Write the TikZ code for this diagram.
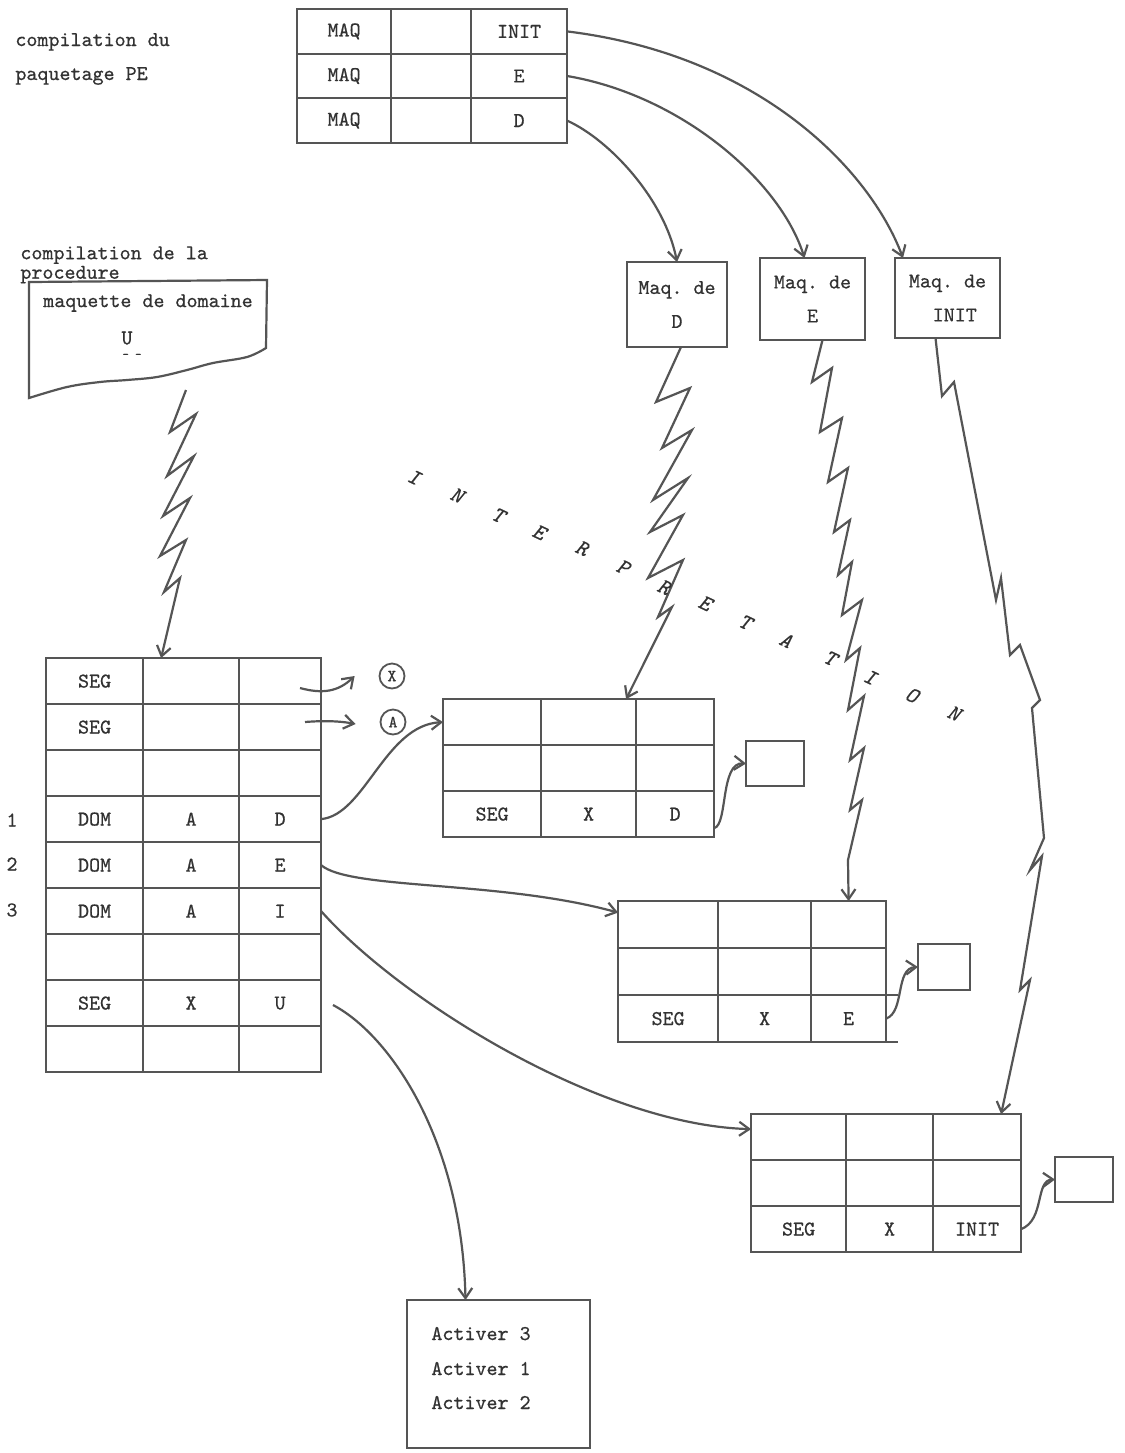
\documentclass[tikz,border=0pt]{standalone}
\usepackage{fontspec}
\usetikzlibrary{matrix,arrows.meta}
\newfontfamily\twf[FakeBold=0.6]{lmmono10-regular.otf}
\newfontfamily\twi[FakeBold=0.5]{lmmono10-italic.otf}
\definecolor{lc}{RGB}{85,85,85}
\definecolor{tc}{RGB}{50,50,50}
\newcommand{\ttsz}{\fontsize{10.5}{12}\selectfont\twf\frenchspacing}
\begin{document}
\begin{tikzpicture}[x=0.5pt,y=-0.5pt,
  every node/.style={text=tc, font=\ttsz, inner sep=0pt},
  tbl/.style={matrix of nodes, nodes in empty cells, column sep=-1.1pt, row sep=-1.1pt,
    anchor=north west, inner sep=0pt, outer sep=0pt,
    nodes={draw=lc, line width=1.1pt, inner sep=0pt, outer sep=0pt, anchor=center}},
  box/.style={draw=lc, line width=1.1pt, inner sep=0pt, outer sep=0pt},
  arr/.style={draw=lc, line width=1.1pt, -{Straight Barb[length=5pt,width=7pt]}},
  bolt/.style={arr, line join=miter},
  ilet/.style={font=\fontsize{11}{12}\selectfont\twi, rotate=-25}
]
\fill[white] (0,0) rectangle (1125,1453);
\useasboundingbox (0,0) rectangle (1125,1453);

% ---------- texts top left
\node[anchor=base west] (t1) at (15,46) {compilation du};
\node[anchor=base west] (t2) at (15,80) {paquetage PE};
\node[anchor=north west, align=left, font={\fontsize{10.5}{7.2}\selectfont\twf}] (t3) at (20,246) {compilation de la\\procedure};

% ---------- top table
\matrix (TP) [tbl,
  column 1/.style={nodes={minimum width=47pt}},
  column 2/.style={nodes={minimum width=40pt}},
  column 3/.style={nodes={minimum width=48pt}},
  nodes={minimum height=22.3pt}] at (296,8) {
MAQ & & INIT \\
MAQ & & E \\
MAQ & & D \\
};

% ---------- Maq boxes
\node[box, minimum width=50pt, minimum height=42.5pt, align=center,
  font={\fontsize{10.5}{17}\selectfont\twf\frenchspacing}] (maqD) at (677,304.5) {Maq. de\\D};
\node[box, minimum width=52.5pt, minimum height=41pt, align=center,
  font={\fontsize{10.5}{17}\selectfont\twf\frenchspacing}] (maqE) at (812.5,299) {Maq. de\\E};
\node[box, minimum width=52.5pt, minimum height=40pt, align=center,
  font={\fontsize{10.5}{17}\selectfont\twf\frenchspacing}] (maqI) at (947.5,298) {Maq. de\\\ \,INIT};

\draw[arr] (TP-1-3.east) .. controls (760,55) and (870,170) .. ([xshift=4pt]maqI.north west);
\draw[arr] (TP-2-3.east) .. controls (680,95) and (780,180) .. ([xshift=-4pt]maqE.north);
\draw[arr] (TP-3-3.east) .. controls (610,140) and (665,200) .. (maqD.north);

% ---------- wavy domain box
\draw[lc, line width=1.1pt] (29,282) -- (267,280) -- (266,348)
  -- plot[smooth, tension=0.6] coordinates {(266,348) (247,357) (213,363) (187,370) (157,377) (127,380) (100,382) (67,387) (29,398)}
  -- cycle;
\node (maqU) at (148,303) {maquette de domaine};
\node (uU) at (127,338) {U};
\node[font=\fontsize{6}{7}\selectfont\twf] (uDots) at (132,356) {- -};
\coordinate (uB) at (186,390);

% ---------- big table
\matrix (BG) [tbl,
  column 1/.style={nodes={minimum width=48.5pt}},
  column 2/.style={nodes={minimum width=48pt}},
  column 3/.style={nodes={minimum width=41pt}},
  nodes={minimum height=23pt}] at (45,657) {
SEG & & \\
SEG & & \\
 & & \\
DOM & A & D \\
DOM & A & E \\
DOM & A & I \\
 & & \\
SEG & X & U \\
 & & \\
};
\node (n1) at (12,820) {1};
\node (n2) at (12,864) {2};
\node (n3) at (12,910) {3};

% circles X, A
\node[circle, draw=lc, line width=0.9pt, minimum size=12.5pt, inner sep=0pt,
  font=\fontsize{8.5}{10}\selectfont\twf] (cX) at (392,676) {X};
\node[circle, draw=lc, line width=0.9pt, minimum size=12.5pt, inner sep=0pt,
  font=\fontsize{8.5}{10}\selectfont\twf] (cA) at (393,722) {A};
\coordinate (s1) at (300,688);
\coordinate (s2) at (305,722);
\draw[arr] (s1) .. controls (322,694) and (338,692) .. ([xshift=-12pt]cX.west);
\draw[arr] (s2) .. controls (330,720) and (345,722) .. ([xshift=-12pt,yshift=-1pt]cA.west);

% ---------- table D
\matrix (TD) [tbl,
  column 1/.style={nodes={minimum width=49pt}},
  column 2/.style={nodes={minimum width=47.5pt}},
  column 3/.style={nodes={minimum width=39pt}},
  nodes={minimum height=23pt}] at (442,698) {
 & & \\
 & & \\
SEG & X & D \\
};
\node[box, minimum width=29pt, minimum height=22.5pt] (sD) at (775,763.5) {};

% ---------- table E
\matrix (TE) [tbl,
  column 1/.style={nodes={minimum width=50pt}},
  column 2/.style={nodes={minimum width=46.5pt}},
  column 3/.style={nodes={minimum width=37.5pt}},
  nodes={minimum height=23.5pt}] at (617,900) {
 & & \\
 & & \\
SEG & X & E \\
};
\draw[lc, line width=1.1pt] (TE-3-3.north east) -- ++(12,0);
\draw[lc, line width=1.1pt] (TE-3-3.south east) -- ++(12,0);
\node[box, minimum width=26pt, minimum height=23pt] (sE) at (944,967) {};

% ---------- table INIT
\matrix (TI) [tbl,
  column 1/.style={nodes={minimum width=47.5pt}},
  column 2/.style={nodes={minimum width=43.5pt}},
  column 3/.style={nodes={minimum width=44pt}},
  nodes={minimum height=23pt}] at (750,1113) {
 & & \\
 & & \\
SEG & X & INIT \\
};
\node[box, minimum width=29pt, minimum height=22.5pt] (sI) at (1084,1179.5) {};

% ---------- Activer box
\node[box, minimum width=91.5pt, minimum height=74pt] (act) at (498.5,1374) {};
\node[anchor=base west] (a3) at (431,1340) {Activer 3};
\node[anchor=base west] (a1) at (431,1375) {Activer 1};
\node[anchor=base west] (a2) at (431,1409) {Activer 2};

% ---------- connectors from big table
\draw[arr] (BG-4-3.east) .. controls (365,815) and (385,725) .. (TD-1-1.west);
\draw[arr] (BG-5-3.east) .. controls (350,890) and (500,880) .. ([yshift=6pt]TE-1-1.west);
\draw[arr] (BG-6-3.east) .. controls (400,1000) and (600,1125) .. ([yshift=4pt]TI-1-1.west);
\coordinate (uS) at (333,1005);
\draw[arr] (uS) .. controls (390,1035) and (462,1140) .. ([xshift=-16.5pt]act.north);

% ---------- connectors to small boxes
\draw[arr] ([yshift=-7pt]TD-3-3.east) .. controls (728,825) and (720,762) .. (sD.west);
\draw[arr] (TE-3-3.east) .. controls (905,1012) and (895,968) .. (sE.west);
\draw[arr] (TI-3-3.east) .. controls (1045,1220) and (1035,1180) .. (sI.west);

% ---------- lightning connectors
\draw[bolt] (uB) -- (170,432) -- (196,414) -- (167,476) -- (194,456) -- (163,516)
  -- (190,498) -- (160,556) -- (186,540) -- (164,592) -- (180,578)
  -- ([xshift=9pt]BG-1-2.north west);
\draw[bolt] ([xshift=2pt]maqD.south) -- (656,402) -- (690,388) -- (662,448) -- (692,430)
  -- (653,500) -- (688,478) -- (650,532) -- (683,515) -- (648,578) -- (683,560)
  -- (658,617) -- (672,607) -- ([xshift=-5pt]TD-1-3.north west);
\draw[bolt] ([xshift=5pt]maqE.south) -- (812,382) -- (832,368) -- (820,432) -- (842,418)
  -- (828,482) -- (848,468) -- (834,532) -- (850,520) -- (838,575) -- (852,562)
  -- (842,615) -- (862,600) -- (846,660) -- (860,648) -- (848,710) -- (864,696)
  -- (850,760) -- (864,748) -- (850,810) -- (862,800) -- (848,860) -- (TE-1-3.north);
\draw[bolt] ([xshift=-6pt]maqI.south) -- (942,396) -- (954,382) -- (996,600) -- (1001,578)
  -- (1010,655) -- (1020,645) -- (1040,700) -- (1032,708) -- (1044,838) -- (1030,870)
  -- (1042,856) -- (1020,990) -- (1030,980) -- ([xshift=12pt]TI-1-3.north);

% ---------- INTERPRETATION
\node[ilet] (L1) at (414,477) {I};
\node[ilet] (L2) at (457,495) {N};
\node[ilet] (L3) at (498,515) {T};
\node[ilet] (L4) at (539,532) {E};
\node[ilet] (L5) at (582,548) {R};
\node[ilet] (L6) at (623,567) {P};
\node[ilet] (L7) at (664,587) {R};
\node[ilet] (L8) at (705,603) {E};
\node[ilet] (L9) at (745,622) {T};
\node[ilet] (L10) at (786,640) {A};
\node[ilet] (L11) at (830,658) {T};
\node[ilet] (L12) at (870,677) {I};
\node[ilet] (L13) at (912,695) {O};
\node[ilet] (L14) at (954,713) {N};
\end{tikzpicture}
\end{document}
